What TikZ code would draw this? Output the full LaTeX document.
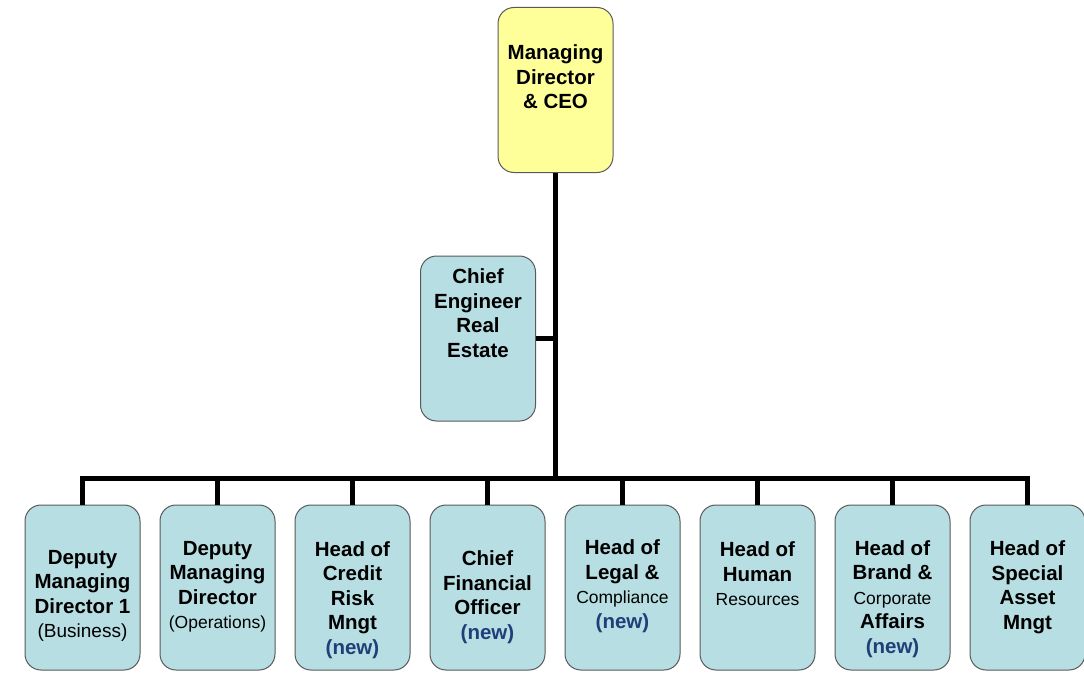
\documentclass[tikz,border=0pt]{standalone}
\usepackage{fontspec}
\setmainfont{Liberation Sans}
\definecolor{ceofill}{RGB}{255,255,153}
\definecolor{unitfill}{RGB}{183,222,226}
\definecolor{newblue}{RGB}{31,63,120}
\newcommand{\bigtxt}{\fontsize{20.5}{24.5}\selectfont\bfseries}
\newcommand{\smalltxt}[1]{{\fontsize{17.5}{24.5}\selectfont\mdseries #1}}
\newcommand{\newtag}{\textcolor{newblue}{(new)}}
\tikzset{
  orgbox/.style={draw=black!65, line width=1pt, rounded corners=16pt,
    minimum width=115pt, minimum height=165pt, inner sep=0pt},
  unit/.style={orgbox, fill=unitfill},
  label text/.style={align=center, inner sep=0pt, font=\bigtxt},
  link/.style={line width=5pt, black}
}
\begin{document}
\begin{tikzpicture}[x={(1pt,0)}, y={(0,-1pt)}]
\useasboundingbox (0,0) rectangle (1084,685);
\fill[white] (0,0) rectangle (1084,685);

% top of the chart
\node[orgbox, fill=ceofill] (ceo) at (555.5,90) {};
\node[label text] (ceot) at (555.5,77) {Managing\\Director\\\& CEO};

% staff position beside the main line
\node[unit] (eng) at (478,338.5) {};
\node[label text] (engt) at (478,313) {Chief\\Engineer\\Real\\Estate};

% direct reports
\foreach \i/\x in {1/82.5,2/217.5,3/352.5,4/487.5,5/622.5,6/757.5,7/892.5,8/1027.5}
  \node[unit] (u\i) at (\x,587.5) {};

\node[label text] (t1) at (82.5,596) {Deputy\\Managing\\Director 1\\\smalltxt{\fontsize{19}{24.5}\selectfont(Business)}};
\node[label text] (t2) at (217.5,587) {Deputy\\Managing\\Director\\\smalltxt{(Operations)}};
\node[label text] (t3) at (352.5,600) {Head of\\Credit\\Risk\\Mngt\\\newtag};
\node[label text] (t4) at (487.5,597) {Chief\\Financial\\Officer\\\newtag};
\node[label text] (t5) at (622.5,586) {Head of\\Legal \&\\\smalltxt{Compliance}\\\newtag};
\node[label text] (t6) at (757.5,574) {Head of\\Human\\\smalltxt{Resources}};
\node[label text] (t7) at (892.5,599) {Head of\\Brand \&\\\smalltxt{Corporate}\\Affairs\\\newtag};
\node[label text] (t8) at (1027.5,587) {Head of\\Special\\Asset\\Mngt};

% connectors
\coordinate (busmid) at (ceo.south |- 0,478);
\coordinate (busL) at (u1.north |- busmid);
\coordinate (busR) at (u8.north |- busmid);
\draw[link] (ceo.south) -- (busmid);
\draw[link] (eng.east) -- (eng.east -| ceo.south);
\draw[link, line cap=rect] (busL) -- (busR);
\foreach \i in {1,...,8}
  \draw[link] (u\i.north |- busmid) -- (u\i.north);
\end{tikzpicture}
\end{document}
